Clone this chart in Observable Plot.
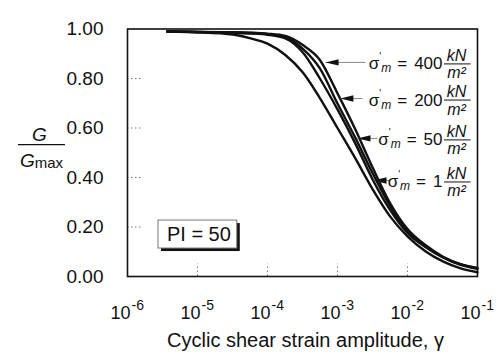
<!DOCTYPE html>
<html><head><meta charset="utf-8">
<script src="https://cdn.jsdelivr.net/npm/d3@7"></script>
<script src="https://cdn.jsdelivr.net/npm/@observablehq/plot@0.6"></script>
<style>
body{margin:0;background:#fff;}
#chart svg{display:block;}
</style>
</head><body><div id="chart"></div>
<script>
// Shear strain amplitude (common grid)
const gamma = [3.7e-6, 1e-5, 3.2e-5, 5.6e-5, 1e-4, 1.8e-4, 3.2e-4, 5.6e-4, 1e-3, 1.8e-3, 3.2e-3, 5.6e-3, 1e-2, 1.8e-2, 3.2e-2, 5.6e-2, 1e-1];
// G/Gmax for each mean effective confining stress (kN/m2)
const g1   = [0.99, 0.987, 0.978, 0.963, 0.941, 0.895, 0.824, 0.721, 0.600, 0.477, 0.351, 0.244, 0.162, 0.102, 0.061, 0.034, 0.017];
const g50  = [0.99, 0.988, 0.985, 0.982, 0.977, 0.962, 0.905, 0.800, 0.675, 0.537, 0.390, 0.270, 0.176, 0.119, 0.077, 0.048, 0.031];
const g200 = [0.99, 0.988, 0.986, 0.984, 0.979, 0.967, 0.920, 0.841, 0.699, 0.560, 0.415, 0.286, 0.181, 0.123, 0.079, 0.050, 0.033];
const g400 = [0.99, 0.988, 0.987, 0.985, 0.981, 0.972, 0.935, 0.875, 0.740, 0.594, 0.438, 0.298, 0.192, 0.127, 0.080, 0.051, 0.035];
// Annotations
const pressures = [400, 200, 50, 1];
const labelG = [0.865, 0.719, 0.558, 0.388];
const arrowTip = [6.75e-4, 1.10e-3, 1.93e-3, 3.27e-3];
const arrowTail = [2.51e-3, 2.28e-3, 3.73e-3, 5.72e-3];
const piLabel = "PI = 50";
// Ticks
const xTicks = [1e-6, 1e-5, 1e-4, 1e-3, 1e-2, 1e-1];
const xTickExp = ["-6", "-5", "-4", "-3", "-2", "-1"];
const yTicks = [0, 0.2, 0.4, 0.6, 0.8, 1.0];
const yTickLabels = ["0.00", "0.20", "0.40", "0.60", "0.80", "1.00"];
const xTitle = "Cyclic shear strain amplitude, γ";

const series = [
  {p: 1, values: g1}, {p: 50, values: g50}, {p: 200, values: g200}, {p: 400, values: g400}
];
const table = series.flatMap(s => gamma.map((g, i) => ({gamma: g, G: s.values[i], p: s.p})));
const rows = pressures.map((p, i) => ({p, g: labelG[i], tip: arrowTip[i], tail: arrowTail[i]}));

const LX = 10 ** -1.5;      // right edge of label text
const FX = 10 ** -1.3;      // centre of kN/m2 fraction
const FX2 = 10 ** -1.12;    // end of fraction bar

const arrowHead = {draw(ctx) { ctx.moveTo(0, 0); ctx.lineTo(13, -3.2); ctx.lineTo(13, 3.2); ctx.closePath(); }};

const font = "'Liberation Sans', Arial, Helvetica, sans-serif";

const plot = Plot.plot({
  width: 497, height: 358,
  marginLeft: 127, marginRight: 20, marginTop: 28.5, marginBottom: 82,
  x: {type: "log", domain: [1e-6, 1e-1], axis: null},
  y: {domain: [0, 1], axis: null},
  style: {fontFamily: font, fontSize: "18px", color: "#111", background: "white"},
  marks: [
    // inner dotted ticks
    Plot.ruleY(yTicks.slice(1, 5), {x1: 1e-6, x2: 10 ** -5.79, stroke: "#777", strokeDasharray: "1.5,2.5", strokeWidth: 1}),
    Plot.ruleX(xTicks.slice(1, 5), {y1: 0, y2: 0.05, stroke: "#777", strokeDasharray: "1.5,2.5", strokeWidth: 1}),
    Plot.frame({stroke: "#111", strokeWidth: 1.6}),
    // curves
    Plot.line(table, {x: "gamma", y: "G", z: "p", curve: "monotone-x", stroke: "#111", strokeWidth: 2.4}),
    // arrows
    Plot.link(rows, {x1: "tail", x2: "tip", y1: "g", y2: "g", stroke: "#888", strokeWidth: 1}),
    Plot.dot(rows, {x: "tip", y: "g", symbol: arrowHead, r: 3, fill: "#111", stroke: "none"}),
    // labels
    Plot.text(rows, {x: () => LX, y: "g", text: d => "σ|" + d.p, textAnchor: "end", lineAnchor: "bottom", dy: 7, fontSize: 17}),
    Plot.text(rows, {x: () => FX, y: "g", text: () => "kN", fontStyle: "italic", lineAnchor: "bottom", dy: -1.5, fontSize: 16}),
    Plot.ruleY(rows, {y: "g", x1: () => LX, x2: () => FX2, dx: 2, dy: 1.5, stroke: "#111", strokeWidth: 1}),
    Plot.text(rows, {x: () => FX, y: "g", text: () => "m²", fontStyle: "italic", lineAnchor: "bottom", dy: 16, fontSize: 16}),
    // PI box
    Plot.rect([piLabel], {x1: 2.77e-6, x2: 3.7e-5, y1: 0.113, y2: 0.226, fill: "#111", dx: 3, dy: 3}),
    Plot.rect([piLabel], {x1: 2.77e-6, x2: 3.7e-5, y1: 0.113, y2: 0.226, fill: "white", stroke: "#777", strokeWidth: 1}),
    Plot.text([piLabel], {x: 10 ** -4.98, y: 0.17, text: d => d, fontSize: 20}),
    // y tick labels
    Plot.text(yTicks, {y: d => d, frameAnchor: "left", text: (d, i) => yTickLabels[i], textAnchor: "end", dx: -24, fontSize: 19}),
    // x tick labels
    Plot.text(xTicks, {x: d => d, frameAnchor: "bottom", text: () => "10", textAnchor: "end", lineAnchor: "bottom", dx: 3, dy: 42, fontSize: 18}),
    Plot.text(xTicks, {x: d => d, frameAnchor: "bottom", text: (d, i) => xTickExp[i], textAnchor: "start", lineAnchor: "bottom", dx: 4, dy: 33, fontSize: 14}),
    // x title
    Plot.text([xTitle], {frameAnchor: "bottom", text: d => d, lineAnchor: "bottom", dy: 70, dx: 3, fontSize: 20}),
    // y title
    Plot.text(["G"], {frameAnchor: "left", text: d => d, textAnchor: "middle", fontStyle: "italic", lineAnchor: "bottom", dx: -88, dy: -12, fontSize: 19}),
    Plot.ruleY([0.533], {x1: 2.77e-8, x2: 1.3e-7, stroke: "#111", strokeWidth: 1.2}),
    Plot.text(["Gmax"], {frameAnchor: "left", text: d => d, textAnchor: "middle", lineAnchor: "bottom", dx: -86, dy: 14, fontSize: 19})
  ]
});

const svg = d3.select(plot);
svg.selectAll("text").each(function() {
  const s = this.textContent;
  const t = d3.select(this);
  if (s.startsWith("σ|")) {
    const p = s.split("|")[1];
    t.text(null);
    t.append("tspan").text("σ");
    t.append("tspan").attr("dx", 0).attr("dy", -9).attr("font-size", 10).text("'");
    t.append("tspan").attr("dx", 0).attr("dy", 12).attr("font-size", 12).attr("font-style", "italic").text("m");
    t.append("tspan").attr("dx", 6).attr("dy", -3).text("=");
    t.append("tspan").attr("dx", 7).text(p);
  } else if (s === "Gmax") {
    t.text(null);
    t.append("tspan").attr("font-style", "italic").text("G");
    t.append("tspan").attr("font-size", 15).attr("dy", 1).text("max");
  }
});
document.getElementById("chart").appendChild(plot);
</script>
</body></html>
